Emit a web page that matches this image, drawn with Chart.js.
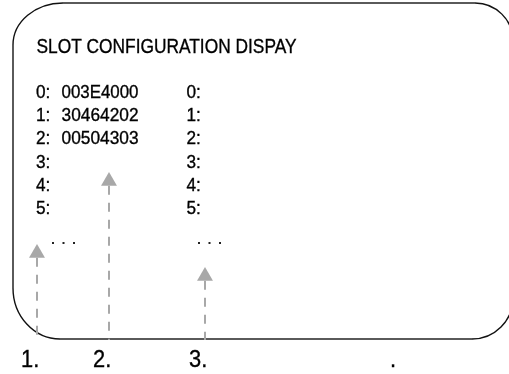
<!DOCTYPE html>
<html lang="en">
<head>
  <meta charset="UTF-8">
  <title>Slot Configuration Display</title>
  <style>
    body, html {
      width: 100%;
      height: 100%;
      margin: 0;
      background-color: #ffffff;
      overflow: hidden;
    }

    #chart-container {
      width: 509px;
      height: 374px;
    }
  </style>
</head>
<body>
  <div id="chart-container">
    <canvas id="slotChart"></canvas>
  </div>

  <script src="https://cdn.jsdelivr.net/npm/chart.js"></script>
  <script>
    // data
    const title = 'SLOT CONFIGURATION DISPAY';
    const slotIndex = [0, 1, 2, 3, 4, 5];
    const slotValues = ['003E4000', '30464202', '00504303', '', '', ''];
    const secondValues = ['', '', '', '', '', ''];
    const arrowLabels = ['1.', '2.', '3.'];
    const arrowX = [37, 109, 205];
    const arrowTipY = [244, 172, 267];

    // layout (pixel space: x 0..509, y 0..374 top-down)
    const rowBase = 98, rowStep = 23.2;
    const colA = 36, colVal = 61.5, colB = 186.5;
    const boxBottom = 339;
    const font = '"Liberation Sans", Arial, sans-serif';
    const squeeze = 0.93;
    const arrowGray = '#a8a8a8';
    const headR = 9.2;

    // sx < 1 squeezes the glyphs horizontally (the source font is a narrow face)
    const text = (ctx, s, x, y, size, sx, fitWidth) => {
      ctx.save();
      ctx.font = size + 'px ' + font;
      if (fitWidth) sx = fitWidth / ctx.measureText(s).width;
      ctx.fillStyle = '#000';
      ctx.strokeStyle = '#000';
      ctx.lineWidth = 0.35;
      ctx.textBaseline = 'alphabetic';
      ctx.translate(x, y);
      ctx.scale(sx, 1);
      ctx.fillText(s, 0, 0);
      ctx.strokeText(s, 0, 0);
      ctx.restore();
    };

    const boxPlugin = {
      id: 'box',
      beforeDatasetsDraw(chart) {
        const { ctx, scales: { x, y } } = chart;
        const px = v => x.getPixelForValue(v), py = v => y.getPixelForValue(v);
        const L = px(13), T = py(3), R = px(513), B = py(boxBottom);
        ctx.save();
        // straight edges
        ctx.strokeStyle = '#5a5a5a';
        ctx.lineWidth = 2;
        ctx.beginPath();
        ctx.moveTo(L + 50, T); ctx.lineTo(R - 38, T);
        ctx.moveTo(R, T + 38); ctx.lineTo(R, B - 41);
        ctx.moveTo(R - 41, B); ctx.lineTo(L + 47, B);
        ctx.moveTo(L, B - 51); ctx.lineTo(L, T + 42);
        ctx.stroke();
        // corners
        ctx.strokeStyle = '#111';
        ctx.lineWidth = 1.4;
        ctx.beginPath();
        ctx.ellipse(L + 50, T + 42, 50, 42, 0, Math.PI, 1.5 * Math.PI);
        ctx.stroke();
        ctx.beginPath();
        ctx.ellipse(R - 38, T + 38, 38, 38, 0, 1.5 * Math.PI, 2 * Math.PI);
        ctx.stroke();
        ctx.beginPath();
        ctx.ellipse(R - 41, B - 41, 41, 41, 0, 0, 0.5 * Math.PI);
        ctx.stroke();
        ctx.beginPath();
        ctx.ellipse(L + 47, B - 51, 47, 51, 0, 0.5 * Math.PI, Math.PI);
        ctx.stroke();
        ctx.restore();
      },
      afterDatasetsDraw(chart) {
        const { ctx, scales: { x, y } } = chart;
        const px = v => x.getPixelForValue(v), py = v => y.getPixelForValue(v);

        text(ctx, title, px(36.5), py(53), 20.5, 1, 260);

        slotIndex.forEach((n, i) => {
          const b = py(rowBase + i * rowStep);
          text(ctx, n + ':', px(colA), b, 18.5, squeeze);
          if (slotValues[i]) text(ctx, slotValues[i], px(colVal), b, 18.5, 1, 77);
          text(ctx, n + ':', px(colB), b, 18.5, squeeze);
          if (secondValues[i]) text(ctx, secondValues[i], px(colB + 25), b, 18.5, squeeze);
        });

        // ellipsis under each column
        ctx.fillStyle = '#222';
        [52, 198].forEach(x0 => {
          for (let k = 0; k < 3; k++) ctx.fillRect(px(x0 + k * 10.5), py(242), 2, 2);
        });

        arrowLabels.forEach((s, i) => {
          text(ctx, s, px(arrowX[i] - 16), py(367), 23.5, squeeze);
        });
        text(ctx, '.', px(390), py(367), 23.5, squeeze);
      }
    };

    const stems = arrowX.map((ax, i) => ({
      type: 'line',
      data: [{ x: ax, y: arrowTipY[i] + headR * 1.5 }, { x: ax, y: boxBottom + 1 }],
      borderColor: arrowGray,
      borderWidth: 2,
      borderDash: [9, 8],
      borderCapStyle: 'butt',
      pointRadius: 0,
      fill: false
    }));

    const heads = {
      type: 'scatter',
      data: arrowX.map((ax, i) => ({ x: ax, y: arrowTipY[i] + headR })),
      pointStyle: 'triangle',
      pointRadius: headR,
      backgroundColor: arrowGray,
      borderColor: arrowGray,
      borderWidth: 0
    };

    new Chart(document.getElementById('slotChart'), {
      type: 'scatter',
      data: { datasets: [...stems, heads] },
      options: {
        responsive: true,
        maintainAspectRatio: false,
        animation: false,
        layout: { padding: 0, autoPadding: false },
        scales: {
          x: { type: 'linear', min: 0, max: 509, display: false },
          y: { type: 'linear', min: 0, max: 374, reverse: true, display: false }
        },
        plugins: {
          legend: { display: false },
          tooltip: { enabled: false }
        }
      },
      plugins: [boxPlugin]
    });
  </script>
</body>
</html>
